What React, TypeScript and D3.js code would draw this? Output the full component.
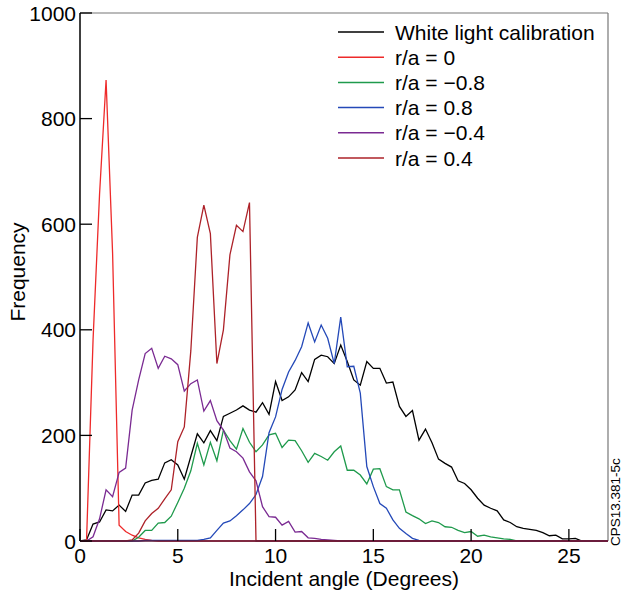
import * as d3 from 'd3';
import React, { useRef, useEffect } from 'react';

// bins are 1/3 degree wide, starting at 0
const binStep = 1 / 3

const whiteLight = [0, 2, 32, 36, 59, 57, 68, 56, 87, 87,
    110, 115, 117, 148, 154, 144, 117, 160, 203, 186,
    209, 190, 236, 242, 248, 256, 248, 244, 262, 240,
    302, 266, 273, 286, 319, 302, 344, 352, 349, 336,
    371, 340, 305, 295, 340, 327, 327, 299, 301, 255,
    236, 247, 191, 212, 186, 155, 147, 140, 114, 109,
    97, 81, 68, 62, 57, 40, 35, 27, 24, 22,
    20, 16, 10, 11, 4, 4, 5, 0, 0, 0,
    0, 0]

const ra0 = [0, 0, 380, 657, 873, 545, 30, 18, 11, 6,
    3, 1, 0, 0, 0, 0, 0, 0, 0, 0,
    0, 0, 0, 0, 0, 0, 0, 0, 0, 0,
    0, 0, 0, 0, 0, 0, 0, 0, 0, 0,
    0, 0, 0, 0, 0, 0, 0, 0, 0, 0,
    0, 0, 0, 0, 0, 0, 0, 0, 0, 0,
    0, 0, 0, 0, 0, 0, 0, 0, 0, 0,
    0, 0, 0, 0, 0, 0, 0, 0, 0, 0,
    0, 0]

const raM08 = [0, 0, 0, 0, 0, 0, 0, 0, 0, 7,
    20, 20, 34, 35, 47, 73, 100, 133, 185, 144,
    187, 152, 210, 190, 174, 213, 187, 169, 182, 201,
    204, 177, 191, 190, 171, 149, 166, 160, 153, 169,
    180, 134, 134, 125, 108, 136, 137, 103, 97, 97,
    55, 48, 42, 33, 38, 35, 27, 26, 20, 16,
    18, 9, 11, 8, 6, 4, 3, 0, 0, 0,
    0, 0, 0, 0, 0, 0, 0, 0, 0, 0,
    0, 0]

const raP08 = [0, 0, 0, 0, 0, 0, 0, 0, 0, 0,
    1, 1, 1, 1, 1, 1, 1, 1, 1, 3,
    6, 20, 34, 38, 48, 59, 71, 88, 122, 205,
    235, 287, 320, 342, 368, 413, 377, 409, 384, 336,
    424, 330, 331, 280, 141, 103, 71, 62, 40, 24,
    14, 5, 1, 0, 0, 0, 0, 0, 0, 0,
    0, 0, 0, 0, 0, 0, 0, 0, 0, 0,
    0, 0, 0, 0, 0, 0, 0, 0, 0, 0,
    0, 0]

const raM04 = [0, 0, 8, 42, 97, 84, 130, 138, 248, 305,
    355, 365, 327, 350, 345, 334, 284, 298, 305, 246,
    266, 228, 210, 176, 169, 157, 131, 114, 65, 46,
    45, 30, 37, 17, 18, 6, 5, 3, 2, 1,
    0, 0, 0, 0, 0, 0, 0, 0, 0, 0,
    0, 0, 0, 0, 0, 0, 0, 0, 0, 0,
    0, 0, 0, 0, 0, 0, 0, 0, 0, 0,
    0, 0, 0, 0, 0, 0, 0, 0, 0, 0,
    0, 0]

const raP04 = [0, 0, 0, 0, 0, 0, 0, 0, 2, 15,
    38, 52, 62, 80, 97, 188, 216, 360, 575, 636,
    582, 336, 400, 542, 598, 586, 641, 0, 0, 0,
    0, 0, 0, 0, 0, 0, 0, 0, 0, 0,
    0, 0, 0, 0, 0, 0, 0, 0, 0, 0,
    0, 0, 0, 0, 0, 0, 0, 0, 0, 0,
    0, 0, 0, 0, 0, 0, 0, 0, 0, 0,
    0, 0, 0, 0, 0, 0, 0, 0, 0, 0,
    0, 0]

const seriesLabels = ['White light calibration', 'r/a = 0', 'r/a = \u22120.8', 'r/a = 0.8', 'r/a = \u22120.4', 'r/a = 0.4']
const seriesData = [whiteLight, ra0, raM08, raP08, raM04, raP04]
const seriesColors = ['#000000', '#ee2a2a', '#1f9a4c', '#2449b8', '#7a2a92', '#ad2229']

const xTicks = [0, 5, 10, 15, 20, 25]
const yTicks = [0, 200, 400, 600, 800, 1000]

const FONT = '"Liberation Sans", Arial, Helvetica, sans-serif'

export default function App() {
    const ref = useRef(null)

    const width = 622
    const height = 593
    const margin = { top: 13, right: 14, bottom: 52, left: 80 }

    useEffect(() => {
        d3.select(ref.current).selectAll('*').remove()
        const svg = d3.select(ref.current)

        const x = d3.scaleLinear()
            .domain([0, 27])
            .range([margin.left, width - margin.right])

        const y = d3.scaleLinear()
            .domain([0, 1000])
            .range([height - margin.bottom, margin.top])

        const x0 = x.range()[0], x1 = x.range()[1]
        const y0 = y.range()[0], y1 = y.range()[1]

        svg.append('rect')
            .attr('width', width)
            .attr('height', height)
            .attr('fill', '#ffffff')

        // grey frame on top and right
        svg.append('line')
            .attr('x1', x0).attr('x2', x1).attr('y1', y1).attr('y2', y1)
            .attr('stroke', '#777').attr('stroke-width', 1.2)
        svg.append('line')
            .attr('x1', x1).attr('x2', x1).attr('y1', y1).attr('y2', y0)
            .attr('stroke', '#777').attr('stroke-width', 1.2)

        // curves
        const line = d3.line()
            .x((d, i) => x(i * binStep))
            .y(d => y(d))

        seriesData.forEach((s, k) => {
            svg.append('path')
                .datum(s)
                .attr('fill', 'none')
                .attr('stroke', seriesColors[k])
                .attr('stroke-width', 1.3)
                .attr('stroke-linejoin', 'miter')
                .attr('d', line)
        })

        // axes lines
        svg.append('line')
            .attr('x1', x0).attr('x2', x0).attr('y1', y1).attr('y2', y0)
            .attr('stroke', '#000').attr('stroke-width', 1.5)
        svg.append('line')
            .attr('x1', x0).attr('x2', x1).attr('y1', y0).attr('y2', y0)
            .attr('stroke', '#5a1a3a').attr('stroke-width', 1.5)

        // y ticks
        yTicks.forEach(t => {
            svg.append('line')
                .attr('x1', x0).attr('x2', x0 + 12)
                .attr('y1', y(t)).attr('y2', y(t))
                .attr('stroke', '#000').attr('stroke-width', 1.3)
            svg.append('text')
                .attr('x', x0 - 4)
                .attr('y', y(t) + 7.5)
                .attr('text-anchor', 'end')
                .style('font-family', FONT)
                .style('font-size', '21px')
                .text(t)
        })

        // x ticks
        xTicks.forEach(t => {
            svg.append('line')
                .attr('x1', x(t)).attr('x2', x(t))
                .attr('y1', y0).attr('y2', y0 - 12)
                .attr('stroke', '#000').attr('stroke-width', 1.3)
            svg.append('text')
                .attr('x', x(t))
                .attr('y', y0 + 22)
                .attr('text-anchor', 'middle')
                .style('font-family', FONT)
                .style('font-size', '21px')
                .text(t)
        })

        // axis titles
        svg.append('text')
            .attr('x', 344)
            .attr('y', 586)
            .attr('text-anchor', 'middle')
            .style('font-family', FONT)
            .style('font-size', '21px')
            .text('Incident angle (Degrees)')

        svg.append('text')
            .attr('transform', 'translate(25,272) rotate(-90)')
            .attr('text-anchor', 'middle')
            .style('font-family', FONT)
            .style('font-size', '21px')
            .text('Frequency')

        svg.append('text')
            .attr('transform', 'translate(620,546) rotate(-90)')
            .attr('text-anchor', 'start')
            .style('font-family', FONT)
            .style('font-size', '13.5px')
            .text('CPS13.381-5c')

        // legend
        const legend = svg.append('g')
        seriesLabels.forEach((lab, k) => {
            const ly = 32 + k * 25.2
            legend.append('line')
                .attr('x1', 338).attr('x2', 384)
                .attr('y1', ly).attr('y2', ly)
                .attr('stroke', seriesColors[k])
                .attr('stroke-width', 1.5)
            legend.append('text')
                .attr('x', 395)
                .attr('y', ly + 7.5)
                .style('font-family', FONT)
                .style('font-size', '21px')
                .text(lab)
        })
    }, [])

    return (
        <svg ref={ref} width={width} height={height}
            style={{ position: 'absolute', left: 0, top: 0, display: 'block' }} />
    )
}
